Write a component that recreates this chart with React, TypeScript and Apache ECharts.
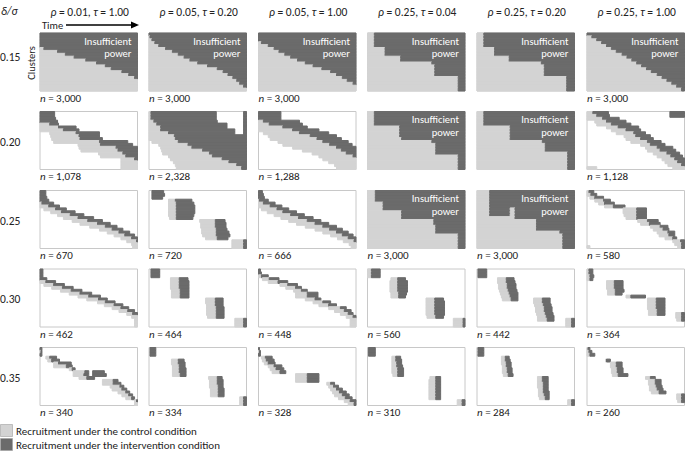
import React, { useEffect, useRef } from 'react';
import * as echarts from 'echarts';

// ---------- labels ----------
const rhoLabels = ['0.01', '0.05', '0.05', '0.25', '0.25', '0.25'];
const tauLabels = ['1.00', '0.20', '1.00', '0.04', '0.20', '1.00'];
const deltaLabels = ['0.15', '0.20', '0.25', '0.30', '0.35'];
const nLabels = [
  ['3,000', '3,000', '3,000', '', '', '3,000'],
  ['1,078', '2,328', '1,288', '', '', '1,128'],
  ['670', '720', '666', '3,000', '3,000', '580'],
  ['462', '464', '448', '560', '442', '364'],
  ['340', '334', '328', '310', '284', '260'],
];
const insufficientPower = [
  [1, 1, 1, 1, 1, 1],
  [0, 0, 0, 1, 1, 0],
  [0, 0, 0, 1, 1, 0],
  [0, 0, 0, 0, 0, 0],
  [0, 0, 0, 0, 0, 0],
];
const legendNames = ['Recruitment under the control condition', 'Recruitment under the intervention condition'];

// ---------- recruitment per cluster row (20 rows, time 0-100) ----------
// each row: groups of [control start, intervention start, intervention end]
const panels015 = [
  [[0,0,100],[0,0,100],[0,0,100],[0,0,100],[0,0,100],[0,4,100],[0,18,100],[0,26,100],[0,35,100],[0,47,100],[0,58,100],[0,67,100],[0,73,100],[0,84,100],[0,91,100],[0,97,100],[0,100,100],[0,100,100],[0,100,100],[0,100,100]],
  [[0,0,100],[0,1,100],[0,3,100],[0,6,100],[0,10,100],[0,17,100],[0,24,100],[0,30,100],[0,36,100],[0,42,100],[0,50,100],[0,60,100],[0,70,100],[0,76,100],[0,81,100],[0,86,100],[0,90,100],[0,93,100],[0,97,100],[0,100,100]],
  [[0,0,100],[0,0,100],[0,0,100],[0,3,100],[0,10,100],[0,16,100],[0,21,100],[0,27,100],[0,33,100],[0,40,100],[0,48,100],[0,56,100],[0,65,100],[0,74,100],[0,80,100],[0,86,100],[0,91,100],[0,97,100],[0,100,100],[0,100,100]],
  [[0,7,100],[0,7,100],[0,7,100],[0,7,100],[0,7,100],[0,18,100],[0,18,100],[0,18,100],[0,34,100],[0,34,100],[0,66,100],[0,69,100],[0,69,100],[0,69,100],[0,69,100],[0,93,100],[0,93,100],[0,93,100],[0,93,100],[0,93,100]],
  [[0,7,100],[0,7,100],[0,7,100],[0,7,100],[0,7,100],[0,18,100],[0,18,100],[0,18,100],[0,33,100],[0,33,100],[0,66,100],[0,69,100],[0,69,100],[0,69,100],[0,69,100],[0,92,100],[0,92,100],[0,92,100],[0,92,100],[0,92,100]],
  [[0,0,100],[0,5,100],[0,10,100],[0,15,100],[0,20,100],[0,25,100],[0,30,100],[0,36,100],[0,41,100],[0,46,100],[0,51,100],[0,56,100],[0,61,100],[0,66,100],[0,72,100],[0,77,100],[0,82,100],[0,87,100],[0,92,100],[0,97,100]],
];
const panels020 = [
  [[0,0,15],[0,0,15],[0,0,16],[0,0,18],[0,10,19],[0,19,37],[0,24,40],[10,37,61],[11,40,61],[12,41,64],[14,61,90],[39,62,95],[40,78,100],[42,80,100],[60,85,100],[62,88,100],[83,97,100],[83,100,100],[83,100,100],[83,100,100]],
  [[0,2,69,97,97,100],[0,2,69,97,97,100],[0,2,69,97,97,100],[0,5,70,97,97,100],[0,8,80,97,97,100],[0,12,80,97,97,100],[0,12,88,97,97,100],[0,20,88,97,97,100],[0,26,100],[0,27,100],[3,30,100],[10,40,100],[12,44,100],[13,55,100],[14,62,100],[20,65,100],[22,75,100],[25,82,100],[27,90,100],[28,95,100]],
  [[0,0,23],[0,0,23],[0,0,23],[0,5,42],[0,11,45],[0,25,50],[0,35,62],[5,42,72],[10,53,80],[12,60,85],[20,66,92],[25,73,96],[35,80,100],[45,85,100],[55,90,100],[62,97,100],[66,100,100],[72,100,100],[78,100,100],[80,100,100]],
  [[0,7,100],[0,7,100],[0,7,100],[0,7,100],[0,7,100],[0,33,100],[0,33,100],[0,33,100],[0,33,100],[0,35,100],[0,66,100],[0,70,100],[0,70,100],[0,70,100],[0,70,100],[0,93,100],[0,93,100],[0,93,100],[0,93,100],[0,93,100]],
  [[0,7,100],[0,7,100],[0,7,100],[0,7,100],[0,7,100],[0,34,100],[0,34,100],[0,34,100],[0,34,100],[0,34,100],[0,67,100],[0,70,100],[0,70,100],[0,70,100],[0,93,100],[0,93,100],[0,93,100],[0,93,100],[0,93,100],[0,93,100]],
  [[0,6,22,85,85,100],[0,10,23,85,85,100],[0,16,33],[8,20,40],[10,25,45],[20,32,53],[25,40,55],[30,48,60],[38,50,65],[40,55,68],[45,62,76],[55,65,80],[60,72,88],[62,75,91],[68,82,95],[72,86,98],[77,90,100],[80,93,100],[83,97,100],[0,10,10,88,100,100]],
];
const panels025 = [
  [[0,0,6],[0,0,6],[0,0,7],[0,0,9],[0,2,14],[0,9,20],[4,16,27],[11,22,36],[18,31,45],[24,39,55],[33,49,64],[41,59,72],[51,67,79],[61,74,85],[69,81,92],[76,87,97],[83,94,100],[89,99,100],[94,100,100],[95,100,100]],
  [[3,3,15],[3,3,16],[3,3,14],[20,27,44],[20,28,46],[20,28,47],[20,28,47],[20,28,47],[20,28,46],[21,28,45],[52,68,78],[53,68,79],[53,68,79],[54,69,80],[54,69,82],[55,69,83],[58,70,81],[85,97,100],[85,97,100],[85,97,100]],
  [[0,0,4],[0,0,5],[0,0,6],[0,1,10],[0,5,17],[0,12,24],[3,19,31],[9,25,39],[16,33,47],[23,41,56],[31,50,64],[39,58,72],[48,66,80],[58,73,86],[66,80,92],[74,86,97],[81,92,100],[87,98,100],[93,100,100],[95,100,100]],
  [[0,8,100],[0,8,100],[0,8,100],[0,8,100],[0,16,100],[0,16,100],[0,16,100],[0,35,100],[0,35,100],[0,35,100],[0,68,100],[0,68,100],[0,70,100],[0,70,100],[0,70,100],[0,93,100],[0,93,100],[0,93,100],[0,93,100],[0,93,100]],
  [[0,13,100],[0,13,100],[0,13,100],[0,13,100],[0,13,100],[0,13,100],[0,13,34,34,39,100],[0,13,34,34,39,100],[0,13,34,34,39,100],[0,39,100],[0,61,100],[0,61,100],[0,61,100],[0,61,100],[0,85,100],[0,88,100],[0,88,100],[0,88,100],[0,88,100],[0,88,100]],
  [[0,2,7],[0,4,10],[3,8,17],[8,17,24],[12,18,28],[18,27,39],[37,51,61],[37,51,61],[38,51,61],[40,51,61],[52,62,73],[55,64,75],[65,75,83],[68,78,84],[72,83,90],[74,84,90],[80,88,92],[88,96,100],[90,97,100],[0,3,3,93,97,100]],
];
const panels030 = [
  [[0,0,3],[0,0,3],[0,0,3],[0,0,7],[0,6,16],[4,14,25],[12,23,34],[21,32,43],[30,41,53],[39,50,62],[48,60,69],[59,67,77],[66,76,85],[74,83,91],[81,90,97],[89,95,100],[94,100,100],[97,100,100],[97,100,100],[97,100,100]],
  [[2,2,11],[2,2,11],[2,2,11],[22,31,40],[22,31,41],[22,31,41],[22,31,41],[23,32,41],[23,32,41],[23,32,41],[58,68,76],[58,68,76],[59,68,76],[59,69,77],[59,69,77],[59,69,77],[60,69,77],[88,97,100],[88,97,100],[88,97,100]],
  [[0,0,2],[0,0,3],[0,3,10],[4,11,21],[10,20,30],[22,30,40],[28,38,44],[36,44,50],[38,50,61],[38,50,61],[48,58,64],[56,66,74],[62,72,80],[72,84,90],[78,88,95],[84,92,97],[90,97,100],[94,100,100],[94,100,100],[94,100,100]],
  [[0,4,13],[0,4,13],[0,4,13],[24,31,39],[23,31,41],[23,31,41],[23,31,41],[23,31,41],[24,32,40],[24,32,39],[60,69,78],[60,69,79],[60,69,79],[60,69,79],[60,69,79],[60,69,79],[61,70,78],[88,98,100],[88,98,100],[88,98,100]],
  [[1,1,10],[1,1,10],[1,1,10],[21,30,38],[21,30,39],[22,31,40],[22,31,40],[23,32,41],[24,33,42],[25,34,42],[26,35,42,58,67,75],[58,67,75],[59,68,76],[60,69,77],[60,69,77],[61,70,78],[62,71,79],[62,72,79,91,97,100],[91,97,100],[91,97,100]],
  [[0,2,6],[0,2,6],[0,3,7],[0,3,6],[20,28,37],[20,28,37],[20,28,37],[21,29,38],[21,29,36],[40,45,60],[62,71,80],[62,71,80],[62,71,80],[62,71,80],[63,72,80],[63,72,80,91,97,100],[91,97,100],[92,97,100],[],[]],
];
const panels035 = [
  [[0,0,2],[0,1,2],[0,0,2],[6,10,17],[8,12,20],[14,19,32],[14,27,33],[30,33,36],[34,46,50,54,54,66],[34,45,50,54,54,68],[40,48,56],[64,75,80],[64,75,83],[72,82,86],[74,84,89],[80,88,92],[84,91,95],[88,94,97],[97,99,100],[97,100,100]],
  [[1,1,7],[1,1,7],[1,1,7],[],[23,30,36],[23,30,37],[24,31,37],[24,31,38],[24,31,38],[24,32,38],[61,70,75],[62,70,76],[62,70,76],[62,71,76],[63,71,77],[63,71,77],[63,71,77],[93,97,100],[93,97,100],[93,97,100]],
  [[0,0,1],[0,1,2],[0,0,2],[3,7,14],[4,8,16],[6,10,17],[10,16,24],[12,18,26],[14,22,28],[38,50,62],[38,50,62],[38,50,62],[70,74,78],[72,77,82],[74,80,86],[76,83,90],[78,86,93],[82,89,96],[88,94,100],[92,98,100]],
  [[1,1,8],[1,1,8],[1,1,8],[25,29,34],[25,29,35],[25,30,35],[25,30,36],[25,31,37],[25,31,37],[26,31,37],[64,70,75],[63,70,75],[63,70,75],[63,70,75],[63,70,75],[63,70,75],[63,70,75],[63,70,75],[92,97,100],[92,97,100]],
  [[0,1,7],[0,1,7],[0,1,7],[25,29,33],[25,29,34],[25,30,35],[26,30,35],[26,31,36],[26,31,36],[27,32,37],[62,67,73],[62,67,73],[62,68,73],[62,68,73],[63,68,73],[63,68,74],[63,69,74],[64,70,74],[93,97,100],[93,97,100]],
  [[0,1,3],[0,2,5],[0,3,8],[],[19,20,24],[24,30,36],[24,30,36],[25,31,37],[25,31,37],[26,32,42],[60,65,70],[63,70,76],[63,70,76],[64,71,77],[64,72,78],[66,74,81],[92,97,100],[92,97,100],[93,97,100],[]],
];
const allPanels = [panels015, panels020, panels025, panels030, panels035];
const ROWS = 20;

// ---------- layout / style ----------
const LIGHT = '#d3d3d3';
const DARK = '#6b6b6b';
const FONT = 'Carlito, Lato, sans-serif';
const panelLeft = [40, 149, 258.5, 367.5, 477, 587];
const panelTop = [33, 111.5, 190.5, 269, 347.5];
const PW = 97.5;
const PH = 58;

function renderCell(params: any, api: any) {
  const row = api.value(0);
  const ls = api.value(1);
  const ds = api.value(2);
  const de = api.value(3);
  const a = api.coord([ls, row]);
  const b = api.coord([ds, row + 1]);
  const c = api.coord([de, row + 1]);
  const children: any[] = [];
  if (ds > ls) {
    children.push({
      type: 'rect',
      shape: { x: a[0], y: a[1], width: b[0] - a[0], height: b[1] - a[1] },
      style: { fill: LIGHT, stroke: LIGHT, lineWidth: 1 },
    });
  }
  if (de > ds) {
    children.push({
      type: 'rect',
      shape: { x: b[0], y: a[1], width: c[0] - b[0], height: c[1] - a[1] },
      style: { fill: DARK, stroke: DARK, lineWidth: 1 },
    });
  }
  return { type: 'group', children };
}

function buildOption() {
  const grid: any[] = [];
  const xAxis: any[] = [];
  const yAxis: any[] = [];
  const series: any[] = [];
  const graphic: any[] = [];
  const italic = { fontStyle: 'italic', fontFamily: FONT };

  allPanels.forEach((rowPanels, r) => {
    rowPanels.forEach((panel, c) => {
      const k = grid.length;
      grid.push({
        left: panelLeft[c], top: panelTop[r], width: PW, height: PH,
        show: true, borderColor: '#c8c8c8', borderWidth: 1, backgroundColor: '#ffffff',
      });
      xAxis.push({ gridIndex: k, type: 'value', min: 0, max: 100, show: false });
      yAxis.push({ gridIndex: k, type: 'value', min: 0, max: ROWS, inverse: true, show: false });
      const data: number[][] = [];
      panel.forEach((vals, i) => {
        for (let j = 0; j + 2 < vals.length; j += 3) {
          data.push([i, vals[j], vals[j + 1], vals[j + 2]]);
        }
      });
      series.push({
        type: 'custom', name: 'panel-' + r + '-' + c, xAxisIndex: k, yAxisIndex: k, clip: false,
        renderItem: renderCell, data, encode: { x: [1, 2, 3], y: 0 }, silent: true, z: 2,
      });
      if (nLabels[r][c]) {
        graphic.push({
          type: 'text', x: panelLeft[c], y: panelTop[r] + PH + 7,
          style: {
            text: '{i|n} = ' + nLabels[r][c], fontFamily: FONT, fontSize: 11, fill: '#222',
            align: 'left', verticalAlign: 'middle', rich: { i: { ...italic, fontSize: 11, fill: '#222' } },
          },
        });
      }
      if (insufficientPower[r][c]) {
        graphic.push({
          type: 'text', x: panelLeft[c] + PW - 6, y: panelTop[r] + 2,
          z: 100,
          style: {
            text: 'Insufficient\npower', fontFamily: FONT, fontSize: 10.5, fill: '#ffffff',
            align: 'right', verticalAlign: 'top', lineHeight: 12.5,
          },
        });
      }
    });
  });

  // column headers
  rhoLabels.forEach((rho, c) => {
    graphic.push({
      type: 'text', x: panelLeft[c] + PW / 2 + 1, y: 12,
      style: {
        text: '{i|ρ} = ' + rho + ', {i|τ} = ' + tauLabels[c], fontFamily: FONT, fontSize: 11.5, fill: '#222',
        align: 'center', verticalAlign: 'middle', rich: { i: { ...italic, fontSize: 11.5, fill: '#222' } },
      },
    });
  });
  // row labels
  deltaLabels.forEach((d, r) => {
    graphic.push({
      type: 'text', x: 0, y: r === 0 ? 57 : panelTop[r] + PH / 2 + 1,
      style: { text: d, fontFamily: FONT, fontSize: 11.5, fill: '#222', align: 'left', verticalAlign: 'middle' },
    });
  });
  graphic.push({
    type: 'text', x: 1, y: 11,
    style: { text: 'δ/σ', fontFamily: FONT, fontStyle: 'italic', fontSize: 11.5, fill: '#222', align: 'left', verticalAlign: 'middle' },
  });
  graphic.push({
    type: 'text', x: 31, y: 63, rotation: Math.PI / 2,
    style: { text: 'Clusters', fontFamily: FONT, fontSize: 10.5, fill: '#222', align: 'center', verticalAlign: 'middle' },
  });
  graphic.push({
    type: 'text', x: 42, y: 25,
    style: { text: 'Time', fontFamily: FONT, fontSize: 10.5, fill: '#222', align: 'left', verticalAlign: 'middle' },
  });
  graphic.push({ type: 'line', shape: { x1: 66, y1: 25, x2: 132, y2: 25 }, style: { stroke: '#000', lineWidth: 1.5 } });
  graphic.push({ type: 'polygon', shape: { points: [[139, 25], [131, 21.5], [131, 28.5]] }, style: { fill: '#000' } });

  // legend
  const legendColors = [LIGHT, DARK];
  legendNames.forEach((name, i) => {
    graphic.push({
      type: 'rect', shape: { x: 0.5, y: 424.5 + i * 14, width: 12, height: 12 },
      style: { fill: legendColors[i], stroke: '#a0a0a0', lineWidth: 0.6 },
    });
    graphic.push({
      type: 'text', x: 16, y: 431 + i * 14,
      style: { text: name, fontFamily: FONT, fontSize: 11, fill: '#222', align: 'left', verticalAlign: 'middle' },
    });
  });

  return {
    animation: false,
    backgroundColor: '#ffffff',
    grid, xAxis, yAxis, series, graphic,
  };
}

export default function App() {
  const ref = useRef<HTMLDivElement>(null);
  useEffect(() => {
    document.body.style.margin = '0';
    if (!ref.current) return;
    const chart = echarts.init(ref.current, null, { renderer: 'svg' });
    chart.setOption(buildOption() as any);
    return () => chart.dispose();
  }, []);
  return <div ref={ref} style={{ position: 'fixed', left: 0, top: 0, width: 685, height: 451 }} />;
}
